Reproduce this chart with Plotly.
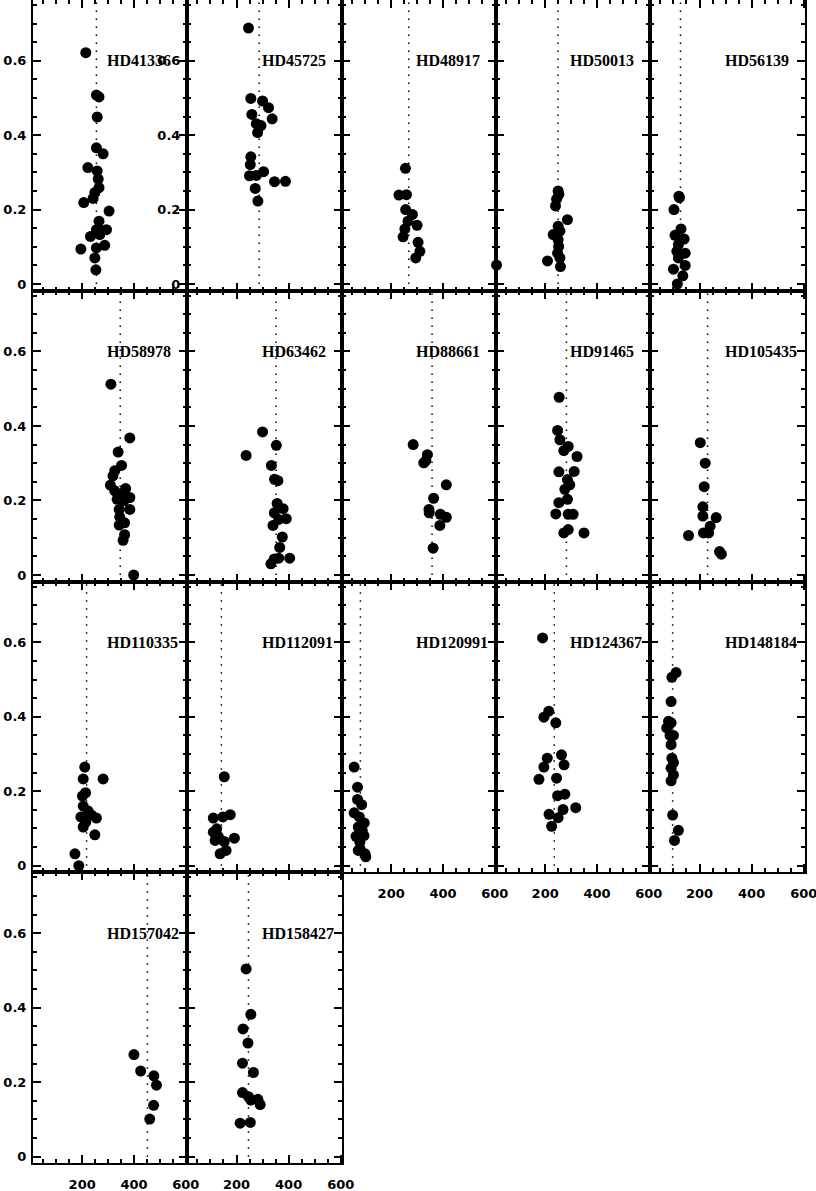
import plotly.graph_objects as go

# ---- data ----
names = ["HD41336", "HD45725", "HD48917", "HD50013", "HD56139",
         "HD58978", "HD63462", "HD88661", "HD91465", "HD105435",
         "HD110335", "HD112091", "HD120991", "HD124367", "HD148184",
         "HD157042", "HD158427"]

# position of the dotted reference line in each panel
ref_x = [255, 287, 268, 250, 127, 347, 352, 358, 282, 231,
         217, 142, 81, 235, 97, 452, 246]

x_HD41336 = [214, 255, 265, 258, 255, 281, 222, 258, 262, 265, 249, 242, 206, 304,
             265, 255, 294, 232, 268, 287, 255, 195, 249, 253, 268]
y_HD41336 = [0.622, 0.508, 0.503, 0.449, 0.366, 0.350, 0.313, 0.304, 0.282, 0.259, 0.246, 0.230, 0.219, 0.196,
             0.169, 0.146, 0.146, 0.128, 0.133, 0.104, 0.097, 0.094, 0.070, 0.038, 0.146]

x_HD45725 = [246, 255, 300, 323, 259, 337, 276, 294, 281, 255, 253, 304, 250, 276, 346, 388, 272, 282]
y_HD45725 = [0.688, 0.499, 0.492, 0.474, 0.456, 0.444, 0.431, 0.426, 0.407, 0.342, 0.321, 0.302,
             0.291, 0.292, 0.275, 0.276, 0.257, 0.223]

x_HD48917 = [255, 230, 259, 256, 282, 265, 300, 253, 246, 304, 311, 295]
y_HD48917 = [0.311, 0.239, 0.240, 0.200, 0.187, 0.169, 0.158, 0.148, 0.127, 0.112, 0.088, 0.070]

x_HD50013 = [12, 250, 253, 244, 240, 286, 250, 257, 231, 250, 252, 209, 257, 259, 248]
y_HD50013 = [0.051, 0.250, 0.241, 0.228, 0.210, 0.173, 0.155, 0.142, 0.133, 0.119, 0.101, 0.062,
             0.070, 0.047, 0.083]

x_HD56139 = [123, 121, 102, 129, 106, 141, 119, 113, 145, 119, 145, 100, 136, 115]
y_HD56139 = [0.232, 0.236, 0.200, 0.148, 0.131, 0.121, 0.106, 0.088, 0.083, 0.070, 0.050, 0.040,
             0.022, 0.000]

x_HD58978 = [311, 384, 339, 352, 326, 319, 309, 368, 326, 352, 384, 335, 361, 343, 384, 345,
             364, 343, 364, 358, 399]
y_HD58978 = [0.512, 0.368, 0.330, 0.294, 0.280, 0.266, 0.241, 0.232, 0.226, 0.217, 0.208, 0.203,
             0.199, 0.176, 0.176, 0.156, 0.140, 0.134, 0.108, 0.093, 0.000]

x_HD63462 = [237, 300, 353, 334, 346, 359, 356, 345, 379, 362, 391, 340, 376, 366, 362, 345, 404, 332]
y_HD63462 = [0.321, 0.384, 0.348, 0.294, 0.257, 0.253, 0.192, 0.167, 0.178, 0.149, 0.151, 0.133,
             0.102, 0.074, 0.045, 0.043, 0.045, 0.030]

x_HD88661 = [285, 340, 334, 326, 413, 364, 346, 347, 390, 413, 388, 362]
y_HD88661 = [0.350, 0.323, 0.307, 0.301, 0.242, 0.206, 0.176, 0.167, 0.163, 0.155, 0.133, 0.072]

x_HD91465 = [254, 248, 257, 289, 272, 323, 253, 312, 286, 295, 276, 286, 253, 241, 289, 308,
             289, 272, 350]
y_HD91465 = [0.477, 0.388, 0.363, 0.345, 0.334, 0.318, 0.277, 0.278, 0.256, 0.242, 0.230, 0.203,
             0.194, 0.164, 0.163, 0.163, 0.122, 0.113, 0.113]

x_HD105435 = [203, 222, 218, 213, 213, 264, 241, 215, 235, 158, 277, 284]
y_HD105435 = [0.355, 0.300, 0.237, 0.183, 0.158, 0.154, 0.131, 0.113, 0.113, 0.106, 0.063, 0.056]

x_HD110335 = [210, 204, 281, 213, 201, 204, 223, 195, 236, 255, 214, 204, 249, 172, 187]
y_HD110335 = [0.265, 0.233, 0.233, 0.196, 0.187, 0.160, 0.147, 0.131, 0.136, 0.128, 0.117, 0.104,
              0.083, 0.032, 0.000]

x_HD112091 = [153, 111, 148, 176, 124, 111, 131, 192, 153, 137, 160, 118]
y_HD112091 = [0.239, 0.128, 0.131, 0.137, 0.099, 0.090, 0.077, 0.074, 0.065, 0.032, 0.041, 0.068]

x_HD120991 = [57, 70, 70, 86, 57, 77, 96, 73, 88, 64, 95, 79, 80, 99, 102, 73]
y_HD120991 = [0.265, 0.211, 0.178, 0.164, 0.142, 0.131, 0.115, 0.104, 0.095, 0.079, 0.081, 0.063,
              0.045, 0.032, 0.024, 0.041]

x_HD124367 = [190, 214, 195, 241, 263, 208, 273, 195, 176, 244, 248, 276, 318, 269, 215, 250, 225]
y_HD124367 = [0.612, 0.415, 0.399, 0.384, 0.298, 0.289, 0.271, 0.265, 0.232, 0.235, 0.188, 0.192,
              0.156, 0.151, 0.138, 0.129, 0.106]

x_HD148184 = [110, 94, 91, 81, 91, 74, 100, 91, 94, 100, 91, 100, 91, 97, 119, 104, 87]
y_HD148184 = [0.519, 0.506, 0.441, 0.388, 0.384, 0.370, 0.350, 0.325, 0.289, 0.277, 0.262, 0.244,
              0.228, 0.136, 0.095, 0.068, 0.350]

x_HD157042 = [400, 426, 477, 487, 476, 461]
y_HD157042 = [0.274, 0.230, 0.217, 0.192, 0.138, 0.101]

x_HD158427 = [237, 255, 225, 244, 223, 265, 223, 246, 255, 282, 291, 214, 253]
y_HD158427 = [0.504, 0.382, 0.343, 0.305, 0.251, 0.226, 0.172, 0.161, 0.152, 0.154, 0.140, 0.090,
              0.092]

panel_x = [x_HD41336, x_HD45725, x_HD48917, x_HD50013, x_HD56139, x_HD58978, x_HD63462,
           x_HD88661, x_HD91465, x_HD105435, x_HD110335, x_HD112091, x_HD120991,
           x_HD124367, x_HD148184, x_HD157042, x_HD158427]
panel_y = [y_HD41336, y_HD45725, y_HD48917, y_HD50013, y_HD56139, y_HD58978, y_HD63462,
           y_HD88661, y_HD91465, y_HD105435, y_HD110335, y_HD112091, y_HD120991,
           y_HD124367, y_HD148184, y_HD157042, y_HD158427]

# ---- layout geometry (pixels) ----
W, H = 816, 1191
col_px = [33, 187, 342, 496, 650, 805]
row_px = [0.2, 290.7, 581.7, 872.4, 1163.4]
X_RANGE = [10, 605]
Y_RANGE = [-0.018, 0.763]

tick_font = dict(family="DejaVu Sans", size=13, color="black", weight="bold")
label_font = dict(family="Liberation Serif", size=16, color="black", weight="bold")

fig = go.Figure()
layout = dict(
    width=W, height=H,
    margin=dict(l=0, r=0, t=0, b=0, autoexpand=False),
    paper_bgcolor="white", plot_bgcolor="white",
    showlegend=False,
    annotations=[],
)

for i, name in enumerate(names):
    n = i + 1
    r, c = divmod(i, 5)
    xa = "x" if n == 1 else f"x{n}"
    ya = "y" if n == 1 else f"y{n}"

    fig.add_trace(go.Scatter(
        x=[ref_x[i], ref_x[i]], y=[0, Y_RANGE[1]],
        mode="lines", line=dict(color="black", width=1.5, dash="1.5px,6.5px"),
        xaxis=xa, yaxis=ya, hoverinfo="skip"))
    fig.add_trace(go.Scatter(
        x=panel_x[i], y=panel_y[i], mode="markers",
        marker=dict(color="black", size=11, line=dict(width=0)),
        cliponaxis=False, xaxis=xa, yaxis=ya))

    show_x = (r == 2 and c >= 2) or r == 3
    show_y = c == 0 or n == 2
    common = dict(
        showline=True, linewidth=2, linecolor="black", mirror="allticks",
        showgrid=False, zeroline=False, automargin=False,
        ticks="inside", ticklen=8, tickwidth=2, tickcolor="black",
        tickfont=tick_font, ticklabeloverflow="allow",
    )
    layout["xaxis" if n == 1 else f"xaxis{n}"] = dict(
        common,
        domain=[col_px[c] / W, col_px[c + 1] / W],
        range=X_RANGE, tick0=0, dtick=200,
        minor=dict(tick0=0, dtick=50, ticks="inside", ticklen=4, tickwidth=1.5, tickcolor="black"),
        showticklabels=show_x, ticklabelstandoff=8,
        anchor=ya,
    )
    layout["yaxis" if n == 1 else f"yaxis{n}"] = dict(
        common,
        domain=[1 - row_px[r + 1] / H, 1 - row_px[r] / H],
        range=Y_RANGE, tick0=0, dtick=0.2,
        minor=dict(tick0=0, dtick=0.05, ticks="inside", ticklen=4, tickwidth=1.5, tickcolor="black"),
        showticklabels=show_y, ticklabelstandoff=2,
        anchor=xa,
    )
    layout["annotations"].append(dict(
        text=name, x=290, y=0.6, xref=xa, yref=ya,
        xanchor="left", yanchor="middle", showarrow=False, font=label_font))

fig.update_layout(**layout)
# drop the default page margin so the figure sits at the window's top-left corner
fig.write_html("out.html", config={"displayModeBar": False},
               post_script="document.body.style.margin='0';")
